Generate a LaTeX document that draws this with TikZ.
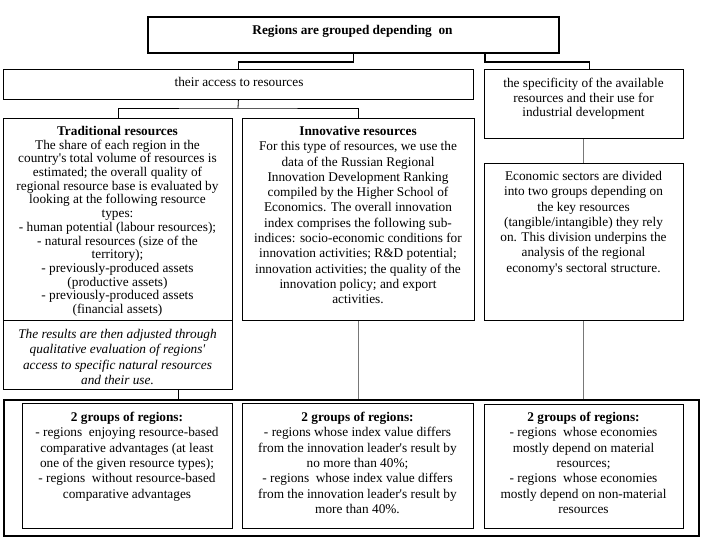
\documentclass[tikz,border=0pt]{standalone}
\usepackage{fontspec}
\setmainfont{Liberation Serif}
\definecolor{conngray}{RGB}{120,120,120}
\begin{document}
\begin{tikzpicture}[x=1pt,y=-1pt,
  box/.style={draw=black,line width=0.8pt,inner sep=0pt,anchor=north west,fill=white},
  thickbox/.style={box,line width=1.8pt},
  txt/.style={inner sep=0pt,align=center,font=\fontsize{13.3}{15.3}\selectfont},
  txttight/.style={inner sep=0pt,align=center,font=\fontsize{13.3}{13.7}\selectfont},
  conn/.style={draw=black,line width=0.8pt},
  connthick/.style={draw=black,line width=1.8pt},
  conngrey/.style={draw=conngray,line width=1pt}]
\useasboundingbox (0,0) rectangle (708,545);
% boxes
\node[thickbox,minimum width=411pt,minimum height=36pt] (top) at (147,16) {};
\node[box,minimum width=470pt,minimum height=30pt] (acc) at (3,69) {};
\node[box,minimum width=199pt,minimum height=69pt] (spec) at (484,69) {};
\node[box,minimum width=229pt,minimum height=202pt] (trad) at (3,118) {};
\node[box,minimum width=229pt,minimum height=69pt] (ital) at (3,320) {};
\node[box,minimum width=232pt,minimum height=202pt] (innov) at (242,118) {};
\node[box,minimum width=199pt,minimum height=157pt] (econ) at (484,163) {};
\node[draw=black,line width=2.4pt,inner sep=0pt,anchor=north west,minimum width=695pt,minimum height=136pt] (frame) at (3,399) {};
\node[box,minimum width=210pt,minimum height=125pt] (g1) at (22,403) {};
\node[box,minimum width=231pt,minimum height=125pt] (g2) at (242,403) {};
\node[box,minimum width=199pt,minimum height=124pt] (g3) at (484,404) {};
% texts
\node[txt] (ttop) at (352.5,31) {\textbf{Regions are grouped depending\ \ on}};
\node[txt] (tacc) at (239,82) {their access to resources};
\node[txt,anchor=north,font=\fontsize{13.3}{14.5}\selectfont] (tspec) at (583.5,78) {the specificity of the available\\resources and their use for\\industrial development};
\node[txttight,anchor=north] (ttrad) at (117.5,126) {\textbf{Traditional resources}\\
The share of each region in the\\
country\textquotesingle s total volume of resources is\\
estimated; the overall quality of\\
regional resource base is evaluated by\\
looking at the following resource\\
types:\\
- human potential (labour resources);\\
- natural resources (size of the\\
territory);\\
- previously-produced assets\\
(productive assets)\\
- previously-produced assets\\
(financial assets)};
\node[txt,anchor=north,font=\itshape\fontsize{13.3}{15.3}\selectfont] (tital) at (117.5,329) {The results are then adjusted through\\
qualitative evaluation of regions\textquotesingle\\
access to specific natural resources\\
and their use.};
\node[txt,anchor=north] (tinnov) at (358,126) {\textbf{Innovative resources}\\
For this type of resources, we use the\\
data of the Russian Regional\\
Innovation Development Ranking\\
compiled by the Higher School of\\
Economics. The overall innovation\\
index comprises the following sub-\\
indices: socio-economic conditions for\\
innovation activities; R\&D potential;\\
innovation activities; the quality of the\\
innovation policy; and export\\
activities.};
\node[txt,anchor=north] (tecon) at (583.5,171) {Economic sectors are divided\\
into two groups depending on\\
the key resources\\
(tangible/intangible) they rely\\
on. This division underpins the\\
analysis of the regional\\
economy\textquotesingle s sectoral structure.};
\node[txt,anchor=north] (tg1) at (127,412) {\textbf{2 groups of regions:}\\
- regions\ \ enjoying resource-based\\
comparative advantages (at least\\
one of the given resource types);\\
- regions\ \ without resource-based\\
comparative advantages};
\node[txt,anchor=north] (tg2) at (357.5,412) {\textbf{2 groups of regions:}\\
- regions whose index value differs\\
from the innovation leader\textquotesingle s result by\\
no more than 40\%;\\
- regions\ \ whose index value differs\\
from the innovation leader\textquotesingle s result by\\
more than 40\%.};
\node[txt,anchor=north] (tg3) at (583.5,412) {\textbf{2 groups of regions:}\\
- regions\ \ whose economies\\
mostly depend on material\\
resources;\\
- regions\ \ whose economies\\
mostly depend on non-material\\
resources};
% connectors
\draw[connthick] (top.south) -- ++(0,8) -| (acc.north);
\coordinate (tr) at ([xshift=131.5pt]top.south);
\coordinate (sp) at ([xshift=5.5pt]spec.north);
\draw[connthick] (tr) -- ++(0,8) -| (sp);
\coordinate (j2) at (238,108);
\draw[conn] (acc.south) -- (j2);
\draw[conn] (trad.north) |- (j2) -| (innov.north);
\draw[conngrey] (spec.south) -- (econ.north);
\coordinate (ib) at ([xshift=60.5pt]ital.south);
\draw[conn] (ib) -- (ib |- frame.north);
\draw[conngrey] (innov.south) -- (innov.south |- frame.north);
\draw[conngrey] (econ.south) -- (econ.south |- frame.north);
\end{tikzpicture}
\end{document}
